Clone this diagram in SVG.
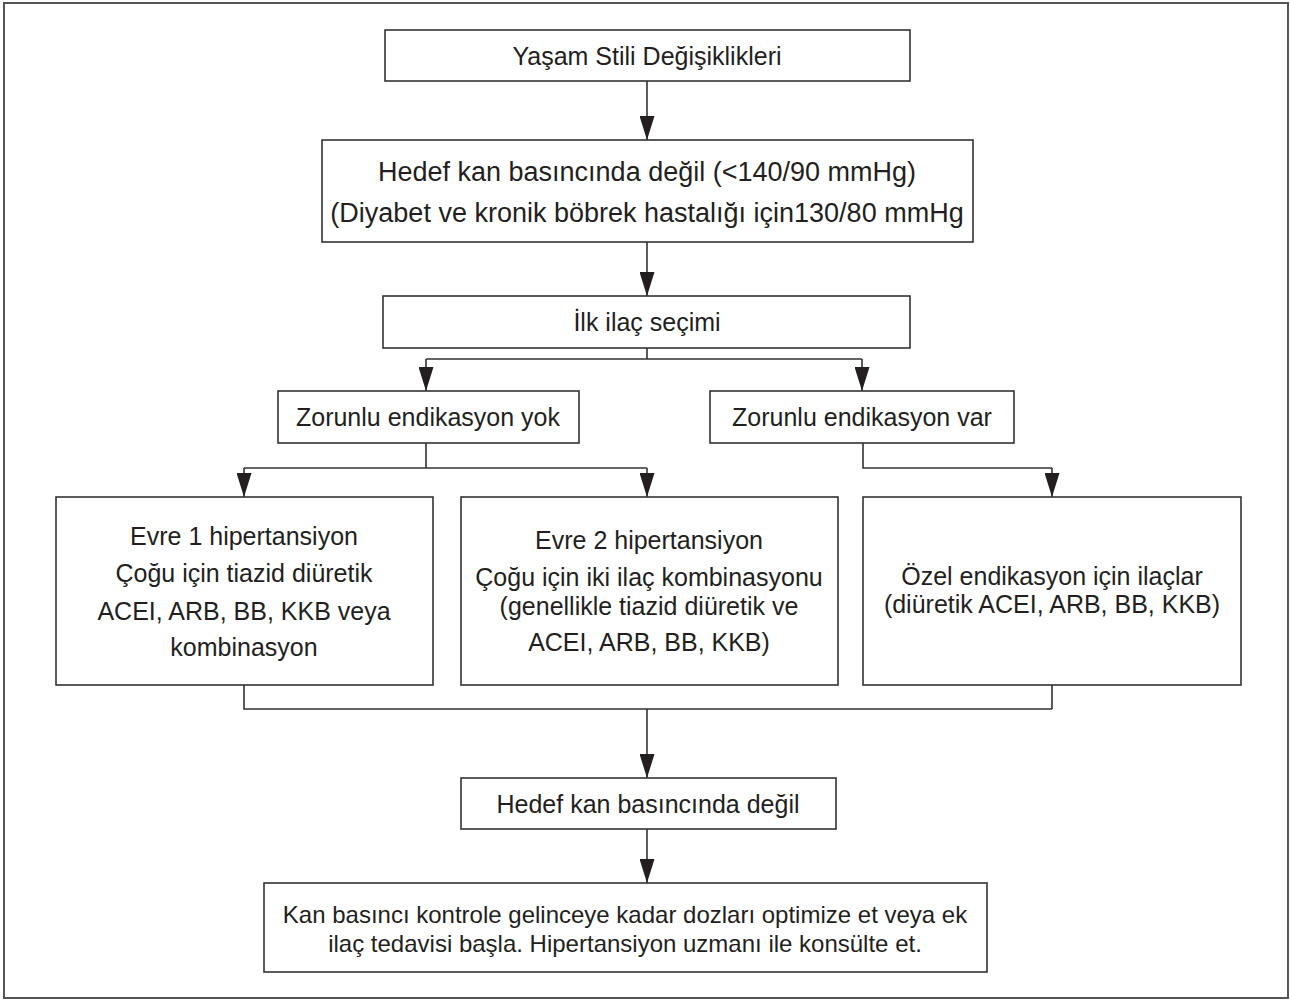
<svg xmlns="http://www.w3.org/2000/svg" width="1290" height="1001" viewBox="0 0 1290 1001">
<defs>
<style>
.box{fill:#fff;stroke:#333;stroke-width:1.6}
.t{font-family:"Liberation Sans",Arial,sans-serif;font-size:25px;fill:#231f20;text-anchor:middle}
.big{font-size:27px}
.sm{font-size:24px}
.c{fill:none;stroke:#333;stroke-width:1.6}
.a{marker-end:url(#arr)}
</style>
<marker id="arr" markerUnits="userSpaceOnUse" viewBox="0 0 24 15" refX="24" refY="7.5" markerWidth="24" markerHeight="15" orient="auto">
<path d="M0,0 L24,7.5 L0,15 z" fill="#231f20"/>
</marker>
</defs>
<rect x="0" y="0" width="1290" height="1001" fill="#fff"/>
<rect x="4" y="3" width="1284" height="995" fill="none" stroke="#555" stroke-width="2"/>

<g id="connectors">
<path class="c a" d="M647,81 V140"/>
<path class="c a" d="M647,242 V296"/>
<path class="c" d="M647,348 V359 M426,359 H862"/>
<path class="c a" d="M426,359 V391"/>
<path class="c a" d="M862,359 V391"/>
<path class="c" d="M426,443 V468 M244,468 H647"/>
<path class="c a" d="M244,468 V497"/>
<path class="c a" d="M647,468 V497"/>
<path class="c" d="M863,443 V468 H1052"/>
<path class="c a" d="M1052,468 V497"/>
<path class="c" d="M244,685 V709 H1052 M1052,685 V709"/>
<path class="c a" d="M647,709 V778"/>
<path class="c a" d="M647,829 V883"/>
</g>

<g id="n1">
<rect class="box" x="385" y="30" width="525" height="51"/>
<text class="t" x="647" y="65">Yaşam Stili Değişiklikleri</text>
</g>
<g id="n2">
<rect class="box" x="322" y="140" width="651" height="102"/>
<text class="t big" x="647" y="181">Hedef kan basıncında değil (&lt;140/90 mmHg)</text>
<text class="t big" x="647" y="222">(Diyabet ve kronik böbrek hastalığı için130/80 mmHg</text>
</g>
<g id="n3">
<rect class="box" x="383" y="296" width="527" height="52"/>
<text class="t" x="647" y="331">İlk ilaç seçimi</text>
</g>
<g id="n4">
<rect class="box" x="278" y="391" width="301" height="52"/>
<text class="t" x="428" y="426">Zorunlu endikasyon yok</text>
</g>
<g id="n5">
<rect class="box" x="710" y="391" width="304" height="52"/>
<text class="t" x="862" y="426">Zorunlu endikasyon var</text>
</g>
<g id="n6">
<rect class="box" x="56" y="497" width="377" height="188"/>
<text class="t" x="244" y="545">Evre 1 hipertansiyon</text>
<text class="t" x="244" y="582">Çoğu için tiazid diüretik</text>
<text class="t" x="244" y="620">ACEI, ARB, BB, KKB veya</text>
<text class="t" x="244" y="656">kombinasyon</text>
</g>
<g id="n7">
<rect class="box" x="461" y="497" width="377" height="188"/>
<text class="t" x="649" y="549">Evre 2 hipertansiyon</text>
<text class="t" x="649" y="586">Çoğu için iki ilaç kombinasyonu</text>
<text class="t" x="649" y="615">(genellikle tiazid diüretik ve</text>
<text class="t" x="649" y="651">ACEI, ARB, BB, KKB)</text>
</g>
<g id="n8">
<rect class="box" x="863" y="497" width="378" height="188"/>
<text class="t" x="1052" y="585">Özel endikasyon için ilaçlar</text>
<text class="t" x="1052" y="613">(diüretik ACEI, ARB, BB, KKB)</text>
</g>
<g id="n9">
<rect class="box" x="461" y="778" width="375" height="51"/>
<text class="t" x="648" y="813">Hedef kan basıncında değil</text>
</g>
<g id="n10">
<rect class="box" x="264" y="883" width="723" height="89"/>
<text class="t sm" x="625" y="923">Kan basıncı kontrole gelinceye kadar dozları optimize et veya ek</text>
<text class="t sm" x="625" y="952">ilaç tedavisi başla. Hipertansiyon uzmanı ile konsülte et.</text>
</g>
</svg>
